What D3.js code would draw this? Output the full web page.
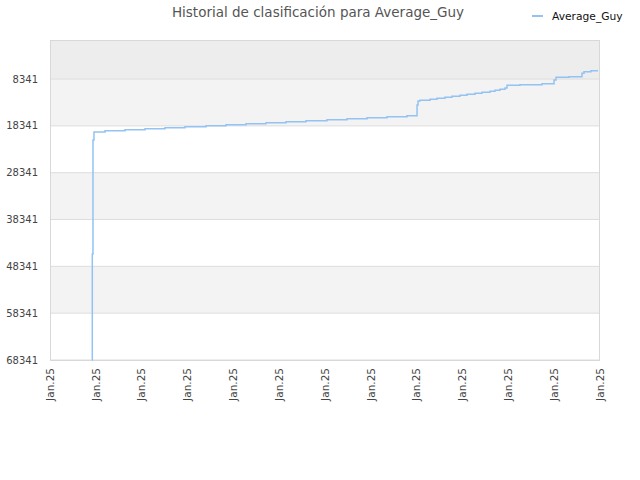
<!DOCTYPE html>
<html>
<head>
<meta charset="utf-8">
<script src="https://cdn.jsdelivr.net/npm/d3@7"></script>
<style>
  body { margin: 0; background: #fff; }
  text { font-family: "DejaVu Sans", sans-serif; }
</style>
</head>
<body>
<div id="chart"></div>
<script>
// Historial de clasificación - Average_Guy

const width = 640;
const height = 480;
const margin = {top: 40, right: 40, bottom: 120, left: 50};

const playerName = "Average_Guy";
const yTicks = [8341, 18341, 28341, 38341, 48341, 58341, 68341];
const xTickDates = ["2025-01-01", "2025-01-02", "2025-01-03", "2025-01-04", "2025-01-05",
    "2025-01-06", "2025-01-07", "2025-01-08", "2025-01-09", "2025-01-10",
    "2025-01-11", "2025-01-12", "2025-01-13"];

// fechas y posiciones
const dates = [
    "2025-01-01 22:00", "2025-01-01 22:09", "2025-01-01 22:30", "2025-01-01 23:02",
    "2025-01-02 04:48", "2025-01-02 15:16", "2025-01-03 01:45", "2025-01-03 12:13",
    "2025-01-03 22:41", "2025-01-04 09:41", "2025-01-04 20:10", "2025-01-05 06:38",
    "2025-01-05 17:06", "2025-01-06 03:35", "2025-01-06 14:03", "2025-01-07 01:03",
    "2025-01-07 11:31", "2025-01-07 22:00", "2025-01-08 08:28", "2025-01-08 18:56",
    "2025-01-09 00:12", "2025-01-09 00:43", "2025-01-09 01:45", "2025-01-09 06:59",
    "2025-01-09 10:39", "2025-01-09 14:50", "2025-01-09 18:30", "2025-01-09 22:41",
    "2025-01-10 02:21", "2025-01-10 06:33", "2025-01-10 10:13", "2025-01-10 14:24",
    "2025-01-10 17:01", "2025-01-10 19:38", "2025-01-10 22:15", "2025-01-10 23:18",
    "2025-01-11 06:06", "2025-01-11 17:37", "2025-01-11 23:55", "2025-01-12 00:58",
    "2025-01-12 07:46", "2025-01-12 14:34", "2025-01-12 15:37", "2025-01-12 19:17",
    "2025-01-12 22:57"
];
const ranks = [
    68341, 45703, 21357, 19648,
    19371, 19157, 18944, 18730,
    18517, 18303, 18089, 17876,
    17662, 17449, 17235, 17022,
    16808, 16595, 16381, 16167,
    13882, 13028, 12879, 12665,
    12452, 12238, 12024, 11811,
    11597, 11384, 11170, 10957,
    10743, 10529, 10252, 9675,
    9547, 9334, 8543, 7967,
    7839, 7113, 6771, 6557,
    6557
];

const parseTime = d3.timeParse("%Y-%m-%d %H:%M");
const parseDay = d3.timeParse("%Y-%m-%d");
const data = dates.map((d, i) => ({date: parseTime(d), rank: ranks[i]}));

const svg = d3.select("#chart").append("svg").attr("width", width).attr("height", height);

const chartW = width - margin.left - margin.right;
const chartH = height - margin.top - margin.bottom;

const xScale = d3.scaleTime()
    .domain([parseDay(xTickDates[0]), parseDay(xTickDates[xTickDates.length - 1])])
    .range([margin.left, margin.left + chartW]);

const yScale = d3.scaleLinear()
    .domain([1, 68341])
    .range([margin.top, margin.top + chartH]);

// bandas de fondo
const bandEdges = [1].concat(yTicks);
svg.append("g").selectAll("rect")
    .data(d3.pairs(bandEdges))
    .join("rect")
    .attr("x", margin.left)
    .attr("width", chartW)
    .attr("y", d => yScale(d[0]))
    .attr("height", d => yScale(d[1]) - yScale(d[0]))
    .attr("fill", (d, i) => i === 0 ? "#ededed" : (i % 2 === 1 ? "#f3f3f3" : "#ffffff"));

// lineas de grilla
svg.append("g").selectAll("line")
    .data(yTicks)
    .join("line")
    .attr("x1", margin.left)
    .attr("x2", margin.left + chartW)
    .attr("y1", d => yScale(d))
    .attr("y2", d => yScale(d))
    .attr("stroke", "#dddddd");

// borde
svg.append("rect")
    .attr("x", margin.left + 0.5)
    .attr("y", margin.top + 0.5)
    .attr("width", chartW - 1)
    .attr("height", chartH)
    .attr("fill", "none")
    .attr("stroke", "#d8d8d8");

// eje y
svg.append("g").selectAll("text")
    .data(yTicks)
    .join("text")
    .attr("x", margin.left - 12)
    .attr("y", d => yScale(d))
    .attr("dy", "0.35em")
    .attr("text-anchor", "end")
    .style("font-size", "10px")
    .style("fill", "#444")
    .text(d => d);

// eje x
const fmt = d3.timeFormat("%b.%y");
svg.append("g").selectAll("text")
    .data(xTickDates.map(parseDay))
    .join("text")
    .attr("transform", d => `translate(${xScale(d)}, ${margin.top + chartH + 8}) rotate(-90)`)
    .attr("dy", "0.35em")
    .attr("text-anchor", "end")
    .style("font-size", "10.5px")
    .style("fill", "#444")
    .text(d => fmt(d));

// linea
const line = d3.line()
    .x(d => xScale(d.date))
    .y(d => yScale(d.rank))
    .curve(d3.curveStepAfter);

svg.append("path")
    .datum(data)
    .attr("d", line)
    .attr("fill", "none")
    .attr("stroke", "#92c3f2")
    .attr("stroke-width", 1.5);

// titulo
svg.append("text")
    .attr("x", 318)
    .attr("y", 17)
    .attr("text-anchor", "middle")
    .style("font-size", "13.5px")
    .style("fill", "#555")
    .text("Historial de clasificación para " + playerName);

// leyenda
svg.append("line")
    .attr("x1", 532).attr("x2", 543)
    .attr("y1", 16).attr("y2", 16)
    .attr("stroke", "#92c3f2")
    .attr("stroke-width", 2);

svg.append("text")
    .attr("x", 552)
    .attr("y", 16)
    .attr("dy", "0.35em")
    .style("font-size", "10.7px")
    .style("fill", "#111")
    .text(playerName);
</script>
</body>
</html>
